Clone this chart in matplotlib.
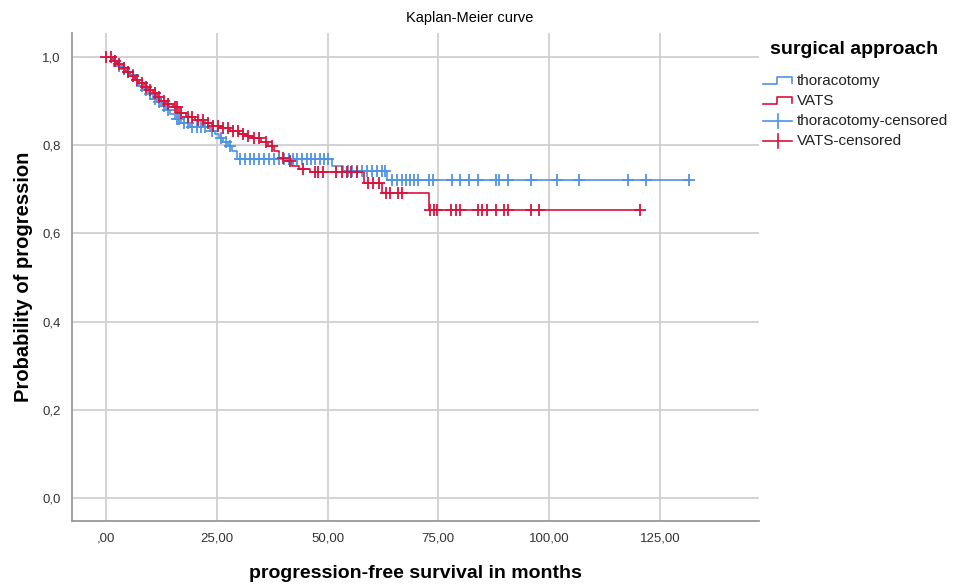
import numpy as np
import matplotlib
matplotlib.use("Agg")
import matplotlib.pyplot as plt
from matplotlib.lines import Line2D

plt.rcParams["font.family"] = ["Liberation Sans", "DejaVu Sans"]

# thoracotomy: event times (months) and survival after each event
thor_times = [1, 2.5, 3.5, 4.5, 5.5, 6.5, 7.5, 8.5, 9.5, 10.5, 11.5, 12.5, 13.5, 14.5,
              15.5, 17, 19, 23.5, 24.5, 25.5, 26.5, 27.5, 28.5, 29.5, 51, 53.5, 63.5]
thor_surv = [0.99, 0.98, 0.973, 0.965, 0.958, 0.947, 0.935, 0.925, 0.915, 0.905, 0.897,
             0.889, 0.88, 0.87, 0.858, 0.85, 0.842, 0.833, 0.825, 0.815, 0.806, 0.797,
             0.787, 0.768, 0.752, 0.741, 0.720]
thor_end = 131.5
thor_cens = [2, 3, 4, 5, 6, 8, 9, 10, 11, 12, 13, 14, 16, 16.5, 17.5, 18.5, 19.5, 20.5,
             21.4, 22.3, 24, 26, 27, 28, 30.2, 31.3, 32.4, 33.5, 34.6, 35.7, 36.8, 37.9,
             39, 40.1, 41.2, 42.3, 43.2, 44.2, 45.3, 46.2, 47.2, 48.2, 49.1, 50.1, 54.5,
             55.5, 56.6, 57.7, 58.8, 60, 61.1, 62.2, 63, 64.6, 65.7, 66.8, 67.7, 68.6,
             69.5, 70.4, 73, 73.9, 78, 79.9, 82, 83.9, 88, 88.8, 90.8, 95.9, 101.9, 106.8,
             117.8, 121.9, 131.5]

# VATS
vats_times = [1.5, 2.5, 3.5, 4.5, 5.5, 6.5, 7.5, 8.5, 9.5, 10.5, 11.5, 12.5, 13.5, 15,
              16.5, 18, 20, 22, 24, 26, 28, 30, 31.5, 33, 35, 36.5, 38, 39, 40.5, 42,
              43.5, 46, 58.3, 62.3, 72.8]
vats_surv = [0.99, 0.984, 0.975, 0.966, 0.957, 0.948, 0.94, 0.932, 0.925, 0.917, 0.909,
             0.9, 0.893, 0.886, 0.872, 0.864, 0.856, 0.849, 0.843, 0.838, 0.833, 0.826,
             0.82, 0.815, 0.808, 0.798, 0.787, 0.77, 0.763, 0.753, 0.746, 0.738, 0.715,
             0.692, 0.652]
vats_end = 120.5
vats_cens = [0, 1, 2, 3, 4, 5, 6, 7, 8, 9, 10, 11, 12, 13, 14, 15.5, 16, 17, 18.5, 19.5,
             20.8, 21.9, 23, 24.2, 25.3, 26.4, 27.5, 28.7, 29.8, 30.9, 32, 33.5, 34.5, 36,
             37.5, 40, 41.5, 44.5, 47.2, 47.9, 49, 52, 53.2, 54.3, 55.4, 56.6, 59.2, 60.3,
             61.5, 63.2, 64.1, 66.0, 66.8, 73.2, 74, 74.8, 77.9, 78.9, 79.9, 83.9, 84.8,
             85.9, 88, 89.9, 90.8, 95.9, 97.8, 120.5]

x_ticks = [0, 25, 50, 75, 100, 125]
x_labels = [",00", "25,00", "50,00", "75,00", "100,00", "125,00"]
y_ticks = [0.0, 0.2, 0.4, 0.6, 0.8, 1.0]
y_labels = ["0,0", "0,2", "0,4", "0,6", "0,8", "1,0"]

BLUE = "#4f93e3"
RED = "#d7143e"


def km_line(times, surv, end):
    t = np.concatenate([[0], times, [end]])
    s = np.concatenate([[1.0], surv, [surv[-1]]])
    return t, s


def surv_at(times, surv, tc):
    idx = np.searchsorted(np.array(times), np.array(tc), side="right") - 1
    s = np.concatenate([[1.0], surv])
    return s[idx + 1]


fig = plt.figure(figsize=(9.55, 5.85), dpi=100)
ax = fig.add_axes([72 / 955, 1 - 521 / 585, (759 - 72) / 955, (521 - 33) / 585])

ax.grid(True, color="#d0d0d0", linewidth=1.3)
ax.set_axisbelow(True)

for times, surv, end, cens, col in [(thor_times, thor_surv, thor_end, thor_cens, BLUE),
                                     (vats_times, vats_surv, vats_end, vats_cens, RED)]:
    t, s = km_line(times, surv, end)
    ax.step(t, s, where="post", color=col, linewidth=1.2, zorder=3)
    ax.plot(cens, surv_at(times, surv, cens), linestyle="none", marker="+",
            markersize=8, markeredgewidth=1.3, color=col, zorder=4)

ax.set_xlim(-7.7, 147.4)
ax.set_ylim(-0.052, 1.054)
ax.set_xticks(x_ticks)
ax.set_xticklabels(x_labels)
ax.set_yticks(y_ticks)
ax.set_yticklabels(y_labels)
ax.tick_params(length=0, labelsize=9.5, labelcolor="#333333", pad=8)
for sp in ["top", "right"]:
    ax.spines[sp].set_visible(False)
for sp in ["left", "bottom"]:
    ax.spines[sp].set_color("#999999")
    ax.spines[sp].set_linewidth(1.3)

ax.set_xlabel("progression-free survival in months", fontsize=14, fontweight="bold",
              labelpad=15)
ax.set_ylabel("Probability of progression", fontsize=14.5, fontweight="bold", labelpad=7)


# legend and title drawn by hand in figure pixels
def px(x, y):
    return x / 955, 1 - y / 585


fig.text(*px(470, 18), "Kaplan-Meier curve", fontsize=10.5, ha="center", va="center")
fig.text(*px(770, 50), "surgical approach", fontsize=14, fontweight="bold", va="center")
legend_rows = [("thoracotomy", BLUE, "step", 81), ("VATS", RED, "step", 101),
               ("thoracotomy-censored", BLUE, "cens", 121), ("VATS-censored", RED, "cens", 141)]
for label, col, kind, yc in legend_rows:
    if kind == "step":
        xs = [763, 777, 777, 792, 792]
        ys = [yc + 3, yc + 3, yc - 4, yc - 4, yc + 2]
    else:
        xs = [763, 792]
        ys = [yc, yc]
    pts = [px(a, b) for a, b in zip(xs, ys)]
    fig.add_artist(Line2D([p[0] for p in pts], [p[1] for p in pts], color=col,
                          linewidth=1.2, transform=fig.transFigure))
    if kind == "cens":
        v0, v1 = px(778, yc - 7), px(778, yc + 7)
        fig.add_artist(Line2D([v0[0], v1[0]], [v0[1], v1[1]], color=col,
                              linewidth=1.2, transform=fig.transFigure))
    fig.text(*px(797, yc), label, fontsize=11, color="#222222", va="center")

fig.savefig("out.png", dpi=100)
